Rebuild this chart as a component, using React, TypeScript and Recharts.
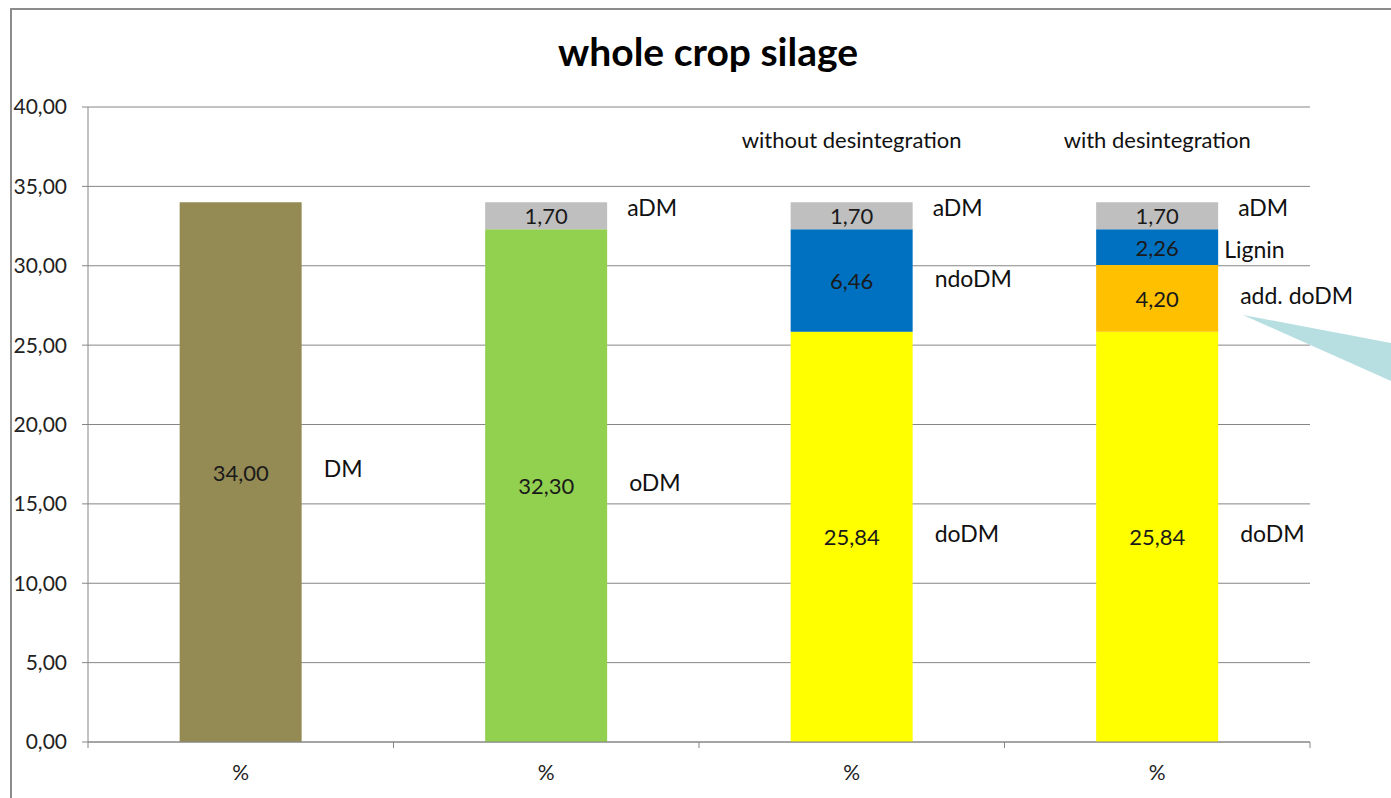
import React from 'react';
import { BarChart, Bar, XAxis, YAxis, CartesianGrid, LabelList, Cell } from 'recharts';

const categories = ['%', '%', '%', '%'];
const headers = ['', '', 'without desintegration', 'with desintegration'];

const baseValues = [34.0, 32.3, 25.84, 25.84];
const baseNames = ['DM', 'oDM', 'doDM', 'doDM'];
const baseColors = ['#948A54', '#92D050', '#FFFF00', '#FFFF00'];

const midValues = [null, null, 6.46, 4.2];
const midNames = ['', '', 'ndoDM', 'add. doDM'];
const midColors = ['#0070C0', '#0070C0', '#0070C0', '#FFC000'];

const ligninValues = [null, null, null, 2.26];
const ligninNames = ['', '', '', 'Lignin'];

const aDMValues = [null, 1.7, 1.7, 1.7];
const aDMNames = ['', 'aDM', 'aDM', 'aDM'];

const yTicks = [0, 5, 10, 15, 20, 25, 30, 35, 40];

const data = categories.map((c, i) => ({
    cat: c,
    header: headers[i],
    base: baseValues[i],
    baseName: baseNames[i],
    mid: midValues[i],
    midName: midNames[i],
    lignin: ligninValues[i],
    ligninName: ligninNames[i],
    adm: aDMValues[i],
    admName: aDMNames[i],
}));

const FONT = 'Lato, "Open Sans", sans-serif';
const fmt = (v: number) => v.toFixed(2).replace('.', ',');

const valueLabel = (props: any) => {
    const { x, y, width, height, value } = props;
    if (value == null || !height) return null;
    return (
        <text x={x + width / 2} y={y + height / 2} textAnchor="middle" dominantBaseline="central"
            fontFamily={FONT} fontSize={22} fill="#1a1a1a">
            {fmt(value)}
        </text>
    );
};

const sideLabel = (dx: number, dy = 0) => (props: any) => {
    const { x, y, width, height, value } = props;
    if (!value || !height) return null;
    return (
        <text x={x + width + dx} y={y + height / 2 + dy} dominantBaseline="central"
            fontFamily={FONT} fontSize={23} fill="#111">
            {value}
        </text>
    );
};

const headerLabel = (props: any) => {
    const { x, y, width, value } = props;
    if (!value) return null;
    return (
        <text x={x + width / 2} y={y - 63} textAnchor="middle" dominantBaseline="central"
            fontFamily={FONT} fontSize={22} fill="#111">
            {value}
        </text>
    );
};

const XTick = (props: any) => {
    const { x, y, payload, index } = props;
    const half = payload?.offset ?? 0;
    return (
        <g>
            {index === 0 && half ? <line x1={x - half} x2={x - half} y1={y - 8} y2={y - 2} stroke="#868686" /> : null}
            {half ? <line x1={x + half} x2={x + half} y1={y - 8} y2={y - 2} stroke="#868686" /> : null}
            <text x={x} y={y + 30} textAnchor="middle" fontFamily={FONT} fontSize={21} fill="#222">
                {payload.value}
            </text>
        </g>
    );
};

const App: React.FC = () => {
    return (
        <div style={{ position: 'absolute', left: 0, top: 0, width: 1391, height: 798, background: '#fff', overflow: 'hidden' }}>
            <div style={{ position: 'absolute', left: 10, top: 8, width: 1381, height: 790, borderLeft: '2px solid #8c8c8c', borderTop: '2px solid #8c8c8c' }} />
            <div style={{ position: 'absolute', left: 358, top: 26, width: 700, textAlign: 'center', fontFamily: FONT, fontWeight: 700, fontSize: 39, lineHeight: '50px', color: '#000' }}>
                whole crop silage
            </div>
            <div style={{ position: 'absolute', left: 0, top: 0 }}>
                <BarChart width={1391} height={798} data={data} barCategoryGap="30%"
                    margin={{ top: 107, right: 81, left: 20, bottom: 26 }}>
                    <CartesianGrid horizontal vertical={false} stroke="#868686" />
                    <XAxis dataKey="cat" height={30} tickLine={false} axisLine={{ stroke: '#868686' }} tick={<XTick />} interval={0} />
                    <YAxis domain={[0, 40]} ticks={yTicks} width={68} tickFormatter={fmt}
                        axisLine={{ stroke: '#868686' }} tickLine={{ stroke: '#868686' }} tickSize={6}
                        tick={{ fontFamily: FONT, fontSize: 21, fill: '#222', dx: -13 }} />
                    <Bar dataKey="base" stackId="a" isAnimationActive={false}>
                        {baseColors.map((c, i) => <Cell key={i} fill={c} />)}
                        <LabelList dataKey="base" content={valueLabel} />
                        <LabelList dataKey="baseName" content={sideLabel(22, -4)} />
                    </Bar>
                    <Bar dataKey="mid" stackId="a" isAnimationActive={false}>
                        {midColors.map((c, i) => <Cell key={i} fill={c} />)}
                        <LabelList dataKey="mid" content={valueLabel} />
                        <LabelList dataKey="midName" content={sideLabel(22, -3)} />
                    </Bar>
                    <Bar dataKey="lignin" stackId="a" fill="#0070C0" isAnimationActive={false}>
                        <LabelList dataKey="lignin" content={valueLabel} />
                        <LabelList dataKey="ligninName" content={sideLabel(6, 2)} />
                    </Bar>
                    <Bar dataKey="adm" stackId="a" fill="#BFBFBF" isAnimationActive={false}>
                        <LabelList dataKey="adm" content={valueLabel} />
                        <LabelList dataKey="admName" content={sideLabel(20, -9)} />
                        <LabelList dataKey="header" content={headerLabel} />
                    </Bar>
                </BarChart>
            </div>
            <svg width={1391} height={798} style={{ position: 'absolute', left: 0, top: 0, pointerEvents: 'none' }}>
                <polygon points="1243,315 1391,343 1391,381" fill="#B7DFE2" />
            </svg>
        </div>
    );
};

export default App;
